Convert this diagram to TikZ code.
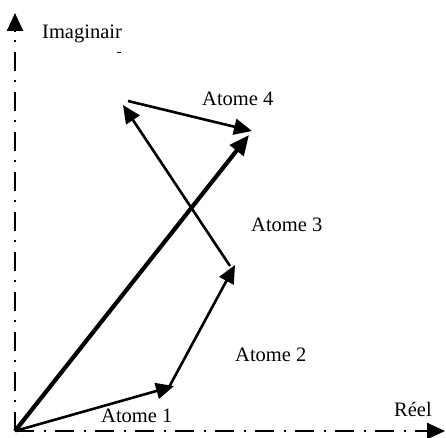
\documentclass[tikz,border=0pt]{standalone}
\usepackage{fontspec}
\setmainfont{Liberation Serif}
\usetikzlibrary{arrows.meta}
\begin{document}
\begin{tikzpicture}[x=1pt,y=1pt,
  axis/.style={line width=2.5pt,dash pattern=on 19pt off 10pt on 2pt off 9pt},
  axishead/.style={line width=2.5pt,-{Triangle[length=18pt,width=16pt]}},
  vec/.style={line width=2.6pt,-{Triangle[length=18pt,width=16pt]}},
  res/.style={line width=4.2pt,-{Triangle[length=20pt,width=17pt]}},
  lab/.style={anchor=base west,inner sep=0pt,font=\fontsize{20.5}{24}\selectfont}]
\fill[white] (0,0) rectangle (446,437);
\useasboundingbox (0,0) rectangle (446,437);
\coordinate (O) at (15,6);
\coordinate (Xend) at (445,6);
\coordinate (Xh) at (428,6);
\coordinate (Yend) at (15,424);
\coordinate (Yh) at (15,405);
\coordinate (A1) at (174,51);
\coordinate (A2s) at (168,48);
\coordinate (A2) at (235,172);
\coordinate (A3s) at (230,171);
\coordinate (A3) at (123,332);
\coordinate (A4s) at (128,336);
\coordinate (A4) at (252,306);
\coordinate (R) at (249,302);
\coordinate (t1) at (117,384);
\coordinate (t2) at (121,384);
\draw[axis] (O) -- (Yh);
\draw[axishead] (Yh) -- (Yend);
\draw[axis] (O) -- (Xh);
\draw[axishead] (Xh) -- (Xend);
\draw[res] (O) -- (R);
\draw[vec] (O) -- (A1);
\draw[vec] (A2s) -- (A2);
\draw[vec] (A3s) -- (A3);
\draw[vec] (A4s) -- (A4);
\draw[line width=1pt] (t1) -- (t2);
\node[lab] (limag) at (42,398) {Imaginair};
\node[lab] (l4) at (202,331) {Atome 4};
\node[lab] (l3) at (251,206) {Atome 3};
\node[lab] (l2) at (235,76) {Atome 2};
\node[lab] (l1) at (101,15) {Atome 1};
\node[lab] (lreel) at (394,21) {Réel};
\end{tikzpicture}
\end{document}
